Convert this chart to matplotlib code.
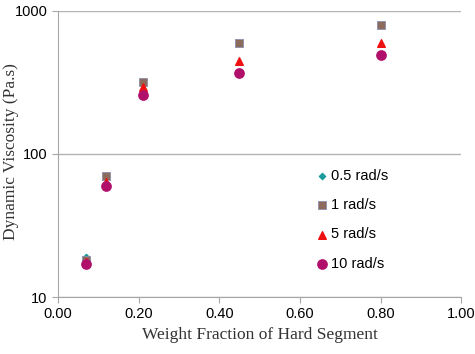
import numpy as np
import matplotlib.pyplot as plt

# weight fraction of hard segment
wf = [0.07, 0.12, 0.21, 0.45, 0.80]

# dynamic viscosity (Pa.s) per frequency
visc_05 = [19, 70, 318, 600, 800]
visc_1 = [18, 70, 318, 597, 798]
visc_5 = [17.5, 64, 292, 447, 597]
visc_10 = [17, 60, 259, 368, 492]

labels = ['0.5 rad/s', '1 rad/s', '5 rad/s', '10 rad/s']

fig = plt.figure(figsize=(4.75, 3.54), dpi=100)
ax = fig.add_axes([0.122, 0.161, 0.849, 0.808])

ax.scatter(wf, visc_05, marker='D', s=10, color='#1a9a9a', label=labels[0], zorder=3)
ax.scatter(wf, visc_1, marker='s', s=30, color='#8c6a5c', edgecolors='#8a8fb0', linewidths=0.6, label=labels[1], zorder=3)
ax.scatter(wf, visc_5, marker='^', s=30, color='#ee1111', label=labels[2], zorder=3)
ax.scatter(wf, visc_10, marker='o', s=45, color='#b0106a', label=labels[3], zorder=3)

ax.set_yscale('log')
ax.set_ylim(10, 1000)
ax.set_xlim(0, 1.0)
ax.set_xticks(np.arange(0, 1.01, 0.2))
ax.set_xticklabels(['%.2f' % v for v in np.arange(0, 1.01, 0.2)])
ax.set_yticks([10, 100, 1000])
ax.set_yticklabels(['10', '100', '1000'])
ax.minorticks_off()

ax.yaxis.grid(True, color='#b3b3b3', linewidth=1.0)
ax.set_axisbelow(True)
for s in ['top', 'right']:
    ax.spines[s].set_visible(False)
for s in ['left', 'bottom']:
    ax.spines[s].set_color('#a6a6a6')
ax.tick_params(axis='both', colors='#a6a6a6', labelcolor='black', labelsize=10.5, length=4)
for t in ax.get_xticklabels() + ax.get_yticklabels():
    t.set_fontfamily('Liberation Sans')

ax.set_xlabel('Weight Fraction of Hard Segment', fontfamily='Liberation Serif', fontsize=12.5, color='#333333')
ax.set_ylabel('Dynamic Viscosity (Pa.s)', fontfamily='Liberation Serif', fontsize=12.5, color='#333333')
ax.yaxis.set_label_coords(-0.097, 0.51)

leg = ax.legend(loc='center left', bbox_to_anchor=(0.605, 0.27), frameon=False, handletextpad=0.1,
                labelspacing=1.05, prop={'family': 'Liberation Sans', 'size': 10.5}, handlelength=1.0)

fig.savefig('out.png', dpi=100)
